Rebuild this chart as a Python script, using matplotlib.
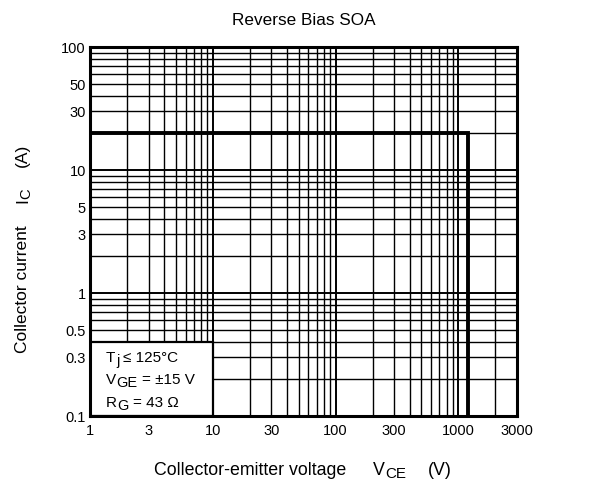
import matplotlib
matplotlib.use("Agg")
import matplotlib.pyplot as plt
from matplotlib.patches import Rectangle
from matplotlib.transforms import offset_copy

plt.rcParams['font.family'] = ['Liberation Sans', 'DejaVu Sans']

# RBSOA boundary: rated current up to the blocking voltage
soa_v = [1, 1200, 1200]
soa_i = [20, 20, 0.1]

x_ticks = [1, 3, 10, 30, 100, 300, 1000, 3000]
x_labels = ['1', '3', '10', '30', '100', '300', '1000', '3000']
y_ticks = [0.1, 0.3, 0.5, 1, 3, 5, 10, 30, 50, 100]
y_labels = ['0.1', '0.3', '0.5', '1', '3', '5', '10', '30', '50', '100']

# condition box corners (data units)
box_v = [1, 10]
box_i = [0.1, 0.4]
# (main, subscript, rest)
cond_lines = [('T', 'j', '≤ 125°C'),
              ('V', 'GE', '= ±15 V'),
              ('R', 'G', '= 43 Ω')]

W, H = 604, 484
fig = plt.figure(figsize=(6.04, 4.84), dpi=100)
ax = fig.add_axes([90 / W, 1 - 416 / H, 427 / W, 369 / H])
ax.set_xscale('log')
ax.set_yscale('log')
ax.set_xlim(1, 3000)
ax.set_ylim(0.1, 100)

ax.set_xticks(x_ticks)
ax.set_xticklabels(x_labels)
ax.set_yticks(y_ticks)
ax.set_yticklabels(y_labels)
ax.minorticks_off()
ax.tick_params(which='both', length=0)
ax.tick_params(axis='x', pad=6, labelsize=10.5)
ax.tick_params(axis='y', pad=3, labelsize=10.5)

# graph-paper grid: 1..9 per decade, decades a bit heavier
for e in range(0, 4):
    for m in range(1, 10):
        v = m * 10 ** e
        if v < 3000:
            ax.axvline(v, color='black', lw=1.4 if m == 1 else 1.0, zorder=1)
for e in range(-1, 2):
    for m in range(1, 10):
        v = m * 10.0 ** e
        ax.axhline(v, color='black', lw=1.4 if m == 1 else 1.0, zorder=1)

for s in ax.spines.values():
    s.set_linewidth(2.2)
    s.set_zorder(5)

ax.plot(soa_v, soa_i, color='black', lw=2.8, zorder=4, solid_joinstyle='miter')

ax.add_patch(Rectangle((box_v[0], box_i[0]), box_v[1] - box_v[0], box_i[1] - box_i[0],
                       facecolor='white', edgecolor='black', lw=1.6, zorder=3))

renderer = fig.canvas.get_renderer()


def piece(x, y, s, size, dx, dy, rot):
    t = fig.text(x / W, 1 - y / H, s, fontsize=size, rotation=rot,
                 rotation_mode='anchor', ha='left', va='baseline', zorder=6,
                 transform=offset_copy(fig.transFigure, fig=fig, x=dx, y=dy, units='dots'))
    bb = t.get_window_extent(renderer)
    return bb.height if rot else bb.width


def sub_label(x, y, main, sub, size, rot=0, sub_scale=0.85, drop=3.5, gap=0):
    """main text followed by a lowered subscript; returns total advance in px"""
    adv = piece(x, y, main, size, 0, 0, rot)
    if rot:
        adv += piece(x, y, sub, size * sub_scale, drop, adv + gap, rot)
    else:
        adv += piece(x, y, sub, size * sub_scale, adv + gap, -drop, rot)
    return adv + gap


# condition text inside the box
for k, (m, s, rest) in enumerate(cond_lines):
    yb = 362 + k * 22.3
    adv = sub_label(106, yb, m, s, 11, sub_scale=0.95, drop=3.0, gap=0.5)
    piece(106, yb, rest, 11, adv + 4, 0, 0)

# x axis label
fs_lab = 12.8
piece(154, 475, 'Collector-emitter voltage', fs_lab, 0, 0, 0)
sub_label(373, 475, 'V', 'CE', fs_lab)
piece(428, 475, '(V)', fs_lab, 0, 0, 0)

# y axis label (rotated)
xb = 27
y0 = 353
adv = piece(xb, y0, 'Collector current', 12.5, 0, 0, 90)
adv += 22
adv += sub_label(xb, y0 - adv, 'I', 'C', 12.5, rot=90)
adv += 21
piece(xb, y0 - adv, '(A)', 12.5, 0, 0, 90)

ax.set_title('Reverse Bias SOA', fontsize=12.3, pad=16)

fig.savefig('out.png', dpi=100, facecolor='white')
